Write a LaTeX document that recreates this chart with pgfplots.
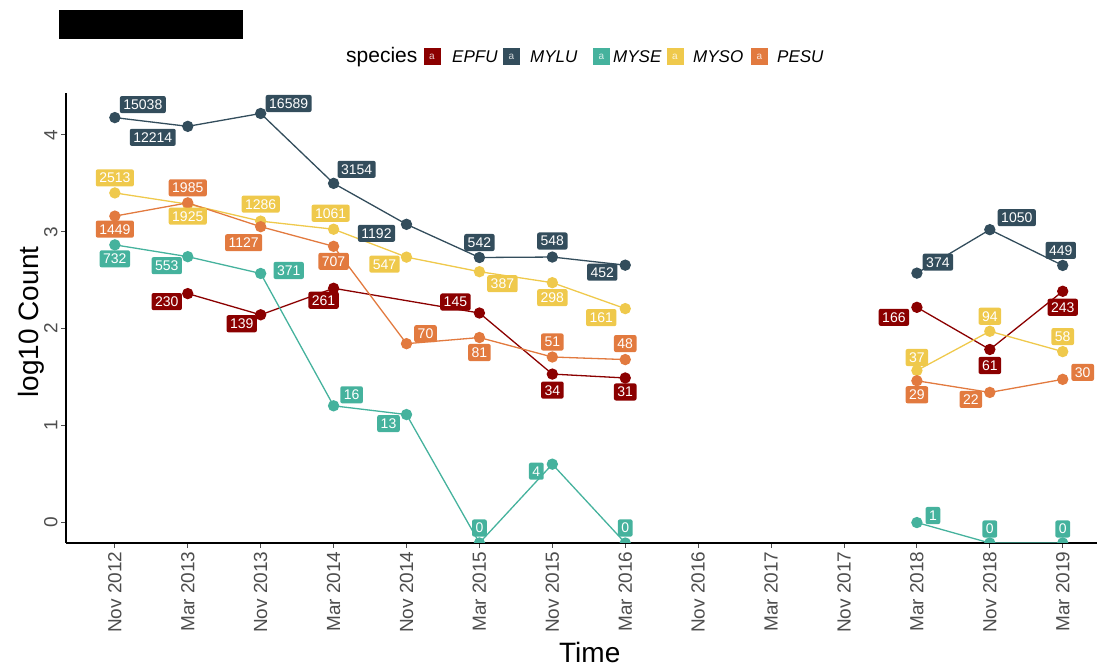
\documentclass[border=0pt]{standalone}
\usepackage{fontspec}
\setmainfont{Liberation Sans}
\usepackage{pgfplots}
\pgfplotsset{compat=1.18}
\usepackage{pgfplotstable}
\definecolor{EPFU}{HTML}{8B0000}
\definecolor{MYLU}{HTML}{334D5C}
\definecolor{MYSE}{HTML}{45B29D}
\definecolor{MYSO}{HTML}{EFC94C}
\definecolor{PESU}{HTML}{E27A3F}
\definecolor{tickgrey}{HTML}{4D4D4D}

% x: 1=Nov 2012 ... 14=Mar 2019 ; y = log10(count), zero counts drawn at the panel floor
\pgfplotstableread{
x y lab dx dy
1 4.1772 15038 28 13
2 4.0869 12214 -35 -11
3 4.2198 16589 28 10
4 3.4989 3154 23 14
5 3.0763 1192 -30 -9
6 2.7340 542 0 15
7 2.7388 548 0 16
8 2.6551 452 -23 -7
9 nan - 0 0
12 2.5729 374 21 11
13 3.0212 1050 27 12
14 2.6522 449 -2 15
}\mylu
\pgfplotstableread{
x y lab dx dy
1 3.4002 2513 0 15
2 3.2844 1925 0 -12
3 3.1093 1286 0 17
4 3.0257 1061 -3 16
5 2.7380 547 -22 -7
6 2.5877 387 23 -12
7 2.4742 298 0 -15
8 2.2068 161 -24 -9
9 nan - 0 0
12 1.5682 37 0 13
13 1.9731 94 0 15
14 1.7634 58 0 15
}\myso
\pgfplotstableread{
x y lab dx dy
1 3.1611 1449 0 -13
2 3.2978 1985 0 15
3 3.0519 1127 -17 -16
4 2.8494 707 0 -15
5 1.8451 70 19 10
6 1.9085 81 0 -15
7 1.7076 51 0 15
8 1.6812 48 0 16
9 nan - 0 0
12 1.4624 29 0 -14
13 1.3424 22 -19 -7
14 1.4771 30 20 7
}\pesu
\pgfplotstableread{
x y lab dx dy
1 2.8645 732 0 -14
2 2.7427 553 -21 -9
3 2.5694 371 28 3
4 1.2041 16 18 11
5 1.1139 13 -18 -9
6 -0.211 0 0 15
7 0.6021 4 -16 -7
8 -0.211 0 0 15
9 nan - 0 0
12 0 1 16 7
13 -0.211 0 0 14
14 -0.211 0 0 14
}\myse
\pgfplotstableread{
x y lab dx dy
2 2.3617 230 -21 -8
3 2.1430 139 -19 -9
4 2.4166 261 -10 -12
6 2.1614 145 -24 11
7 1.5315 34 0 -16
8 1.4914 31 0 -14
9 nan - 0 0
12 2.2201 166 -23 -10
13 1.7853 61 0 -16
14 2.3856 243 0 -16
}\epfu

\pgfplotsset{
  ser/.style={color=#1, line width=1.3pt, mark=*, mark size=5pt, mark options={solid, fill=#1, draw=#1}},
  lbl/.style={draw=none, mark=none, forget plot, nodes near coords, point meta=explicit symbolic,
    visualization depends on={\thisrow{dx}\as\dx},
    visualization depends on={\thisrow{dy}\as\dy},
    every node near coord/.append style={anchor=center, xshift=\dx pt, yshift=\dy pt, fill=#1, text=white,
      rounded corners=2pt, inner xsep=3.5pt, inner ysep=3.6pt, text height=9.9pt, text depth=0pt,
      font=\fontsize{14}{15}\selectfont}},
}

\begin{document}
\begin{tikzpicture}
\useasboundingbox (0,0) rectangle (1097pt,666pt);
\fill[black] (59pt,627pt) rectangle (243pt,656pt);
% legend
\node[anchor=west, inner sep=0pt, font=\fontsize{21}{24}\selectfont] at (346pt,609pt) {species};
\fill[EPFU] (423.5pt,600.5pt) rectangle (440.5pt,617.5pt);
\fill[MYLU] (503pt,600.5pt) rectangle (520pt,617.5pt);
\fill[MYSE] (593pt,600.5pt) rectangle (610pt,617.5pt);
\fill[MYSO] (666.5pt,600.5pt) rectangle (683.5pt,617.5pt);
\fill[PESU] (751pt,600.5pt) rectangle (768pt,617.5pt);
\foreach \c/\bx/\tx in {EPFU/432/452, MYLU/511.5/530, MYSE/601.5/613, MYSO/675/693, PESU/759.5/777}{
  \node[inner sep=0pt, text=white!80!\c, font=\fontsize{10}{10}\selectfont] at (\bx pt,609pt) {a};
  \node[anchor=west, inner sep=0pt, font=\fontsize{17}{20}\selectfont\itshape] at (\tx pt,609pt) {\c};
}
\begin{axis}[
  at={(66pt,123pt)}, anchor=south west,
  scale only axis, width=1031pt, height=450pt,
  xmin=0.33, xmax=14.47, ymin=-0.211, ymax=4.431,
  axis lines*=left, axis line style={line width=1.2pt, black},
  xtick={1,...,14},
  xticklabels={Nov 2012, Mar 2013, Nov 2013, Mar 2014, Nov 2014, Mar 2015, Nov 2015, Mar 2016, Nov 2016, Mar 2017, Nov 2017, Mar 2018, Nov 2018, Mar 2019},
  ytick={0,1,2,3,4},
  tick align=outside, major tick length=5pt, tick style={tickgrey, line width=0.9pt},
  xticklabel style={rotate=90, anchor=east, font=\fontsize{19}{21}\selectfont, text=tickgrey},
  yticklabel style={rotate=90, anchor=south, font=\fontsize{19}{21}\selectfont, text=tickgrey},
  /pgf/number format/assume math mode=true,
  xlabel={Time}, ylabel={log10 Count},
  xlabel style={at={(axis description cs:0.508,-0.2422)}, anchor=center, font=\fontsize{28}{30}\selectfont},
  ylabel style={at={(axis description cs:-0.034,0.491)}, anchor=center, font=\fontsize{28}{30}\selectfont},
  clip marker paths=true,
  unbounded coords=jump,
]
\addplot[ser=EPFU] table[x=x, y=y] {\epfu};
\addplot[ser=MYLU] table[x=x, y=y] {\mylu};
\addplot[ser=MYSE] table[x=x, y=y] {\myse};
\addplot[ser=MYSO] table[x=x, y=y] {\myso};
\addplot[ser=PESU] table[x=x, y=y] {\pesu};
\addplot[lbl=EPFU] table[x=x, y=y, meta=lab] {\epfu};
\addplot[lbl=MYLU] table[x=x, y=y, meta=lab] {\mylu};
\addplot[lbl=MYSE] table[x=x, y=y, meta=lab] {\myse};
\addplot[lbl=MYSO] table[x=x, y=y, meta=lab] {\myso};
\addplot[lbl=PESU] table[x=x, y=y, meta=lab] {\pesu};
\end{axis}
\end{tikzpicture}
\end{document}
